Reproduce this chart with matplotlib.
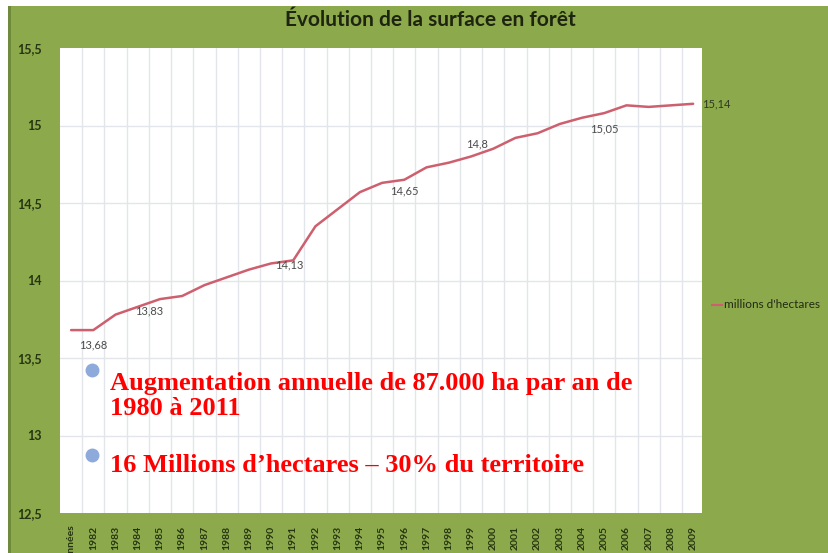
import matplotlib.pyplot as plt
import matplotlib.patches as patches

# categories (first one is the truncated "Années" label)
annees = ["Années"] + [str(a) for a in range(1982, 2010)]
surface = [13.68, 13.68, 13.78, 13.83, 13.88, 13.90, 13.97, 14.02, 14.07, 14.11,
           14.13, 14.35, 14.46, 14.57, 14.63, 14.65, 14.73, 14.76, 14.80, 14.85,
           14.92, 14.95, 15.01, 15.05, 15.08, 15.13, 15.12, 15.13, 15.14]
yticks = [12.5, 13, 13.5, 14, 14.5, 15, 15.5]
ytick_labels = ["12,5", "13", "13,5", "14", "14,5", "15", "15,5"]
# which points get a value label, and pixel offset of the label
labels_idx = [1, 3, 10, 15, 18, 23, 28]
labels_off = [(0, -15), (11, -4), (-4, -5), (0, -11), (6, 13), (22, -11), (9, 0)]

W, H = 829, 553
fig = plt.figure(figsize=(W / 100, H / 100), dpi=100)
fig.patch.set_facecolor("white")

green = "#8CA94C"
fig.add_artist(patches.Rectangle((8 / W, 0), 1 - 8 / W, 1 - 6 / H,
                                 transform=fig.transFigure, facecolor=green,
                                 edgecolor="none", zorder=-2))
fig.add_artist(patches.Rectangle((8 / W, 0), 3 / W, 1 - 6 / H,
                                 transform=fig.transFigure, facecolor="#6E8A3A",
                                 edgecolor="none", zorder=-1))

ax = fig.add_axes([60 / W, 1 - 513 / H, (702 - 60) / W, (513 - 48) / H])
ax.set_facecolor("white")
x = list(range(len(annees)))
ax.plot(x, surface, color="#CD5F6E", lw=1.8, solid_capstyle="round")

ax.set_xlim(-0.5, 28.4)
ax.set_ylim(12.5, 15.5)
ax.set_yticks(yticks)
ax.set_yticklabels(ytick_labels, fontfamily="Lato", fontweight="bold",
                   fontsize=9, color="#253510")
ax.set_xticks(x)
ax.set_xticklabels(annees, rotation=90, fontfamily="Lato", fontweight="bold",
                   fontsize=7.5, color="#253510", va="top")
ax.tick_params(axis="both", length=0)
ax.tick_params(axis="y", pad=13)
ax.tick_params(axis="x", pad=9)

# grid
for v in yticks[1:-1]:
    ax.axhline(v, color="#E2E6EA", lw=1, zorder=0)
for i in range(len(annees) - 1):
    ax.axvline(i + 0.5, color="#E2E6EA", lw=1, zorder=0)
for s in ax.spines.values():
    s.set_visible(False)

for i, (dx, dy) in zip(labels_idx, labels_off):
    txt = ("%.2f" % surface[i]).rstrip("0").replace(".", ",")
    ha = "left" if i == len(annees) - 1 else "center"
    col = "#2E3A20" if i == len(annees) - 1 else "#4A4A4A"
    ax.annotate(txt, (i, surface[i]), xytext=(dx, dy), textcoords="offset pixels",
                ha=ha, va="center", fontsize=8, fontfamily="Lato",
                color=col, annotation_clip=False)

fig.text(430 / W, 1 - 20 / H, "Évolution de la surface en forêt", ha="center",
         va="center", fontfamily="Lato", fontweight="bold", fontsize=15,
         color="#1E2410")

# legend
fig.add_artist(plt.Line2D([712 / W, 722 / W], [1 - 305 / H, 1 - 305 / H],
                          color="#CD5F6E", lw=1.5, transform=fig.transFigure))
fig.text(724 / W, 1 - 305 / H, "millions d'hectares", ha="left", va="center",
         fontfamily="Lato", fontsize=8.5, color="#222A12")

# bullet text
red = "#FF0000"
fs = 19
fig.text(110 / W, 1 - 390 / H, "Augmentation annuelle de 87.000 ha par an de",
         fontfamily="Liberation Serif", fontweight="bold", fontsize=fs,
         color=red, va="baseline")
fig.text(110 / W, 1 - 415 / H, "1980 à 2011",
         fontfamily="Liberation Serif", fontweight="bold", fontsize=fs,
         color=red, va="baseline")
fig.text(110 / W, 1 - 472 / H, "16 Millions d\u2019hectares \u2013 30% du territoire",
         fontfamily="Liberation Serif", fontweight="bold", fontsize=fs,
         color=red, va="baseline")
for by in [370, 455]:
    fig.add_artist(plt.Line2D([92 / W], [1 - by / H], marker="o", markersize=9,
                              color="#8EAADB", transform=fig.transFigure))

fig.savefig("out.png", dpi=100)
